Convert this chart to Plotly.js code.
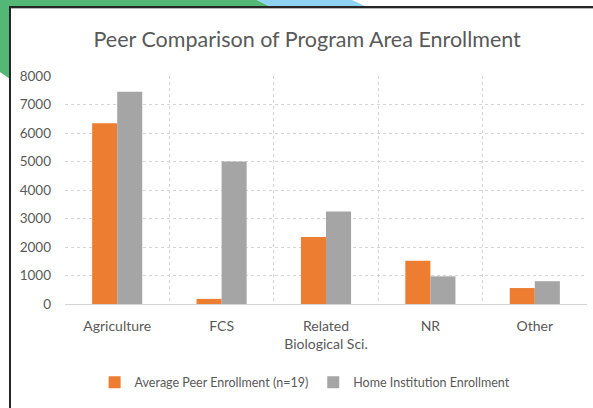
<!DOCTYPE html>
<html>
<head>
<meta charset="utf-8">
<script src="https://cdn.plot.ly/plotly-3.0.1.min.js"></script>
<style>
  html, body { margin: 0; padding: 0; background: #ffffff; overflow: hidden; }
  #wrap { position: relative; width: 593px; height: 408px; }
  .deco { position: absolute; left: 0; top: 0; width: 593px; height: 408px; }
  #chart { position: absolute; left: 0; top: 0; width: 593px; height: 408px; }
</style>
</head>
<body>
<div id="wrap">
  <div class="deco" style="background:#53b776; clip-path: polygon(0px 0px, 257px 0px, 271px 7px, 10px 7px, 10px 79px, 0px 72px);"></div>
  <div class="deco" style="background:#8fd3f2; clip-path: polygon(257px 0px, 352px 0px, 367px 7px, 271px 7px);"></div>
  <div style="position:absolute; left:9px; top:6px; width:584px; height:2px; background:#262626;"></div>
  <div style="position:absolute; left:11px; top:8px; width:582px; height:1px; background:#b8b8b8;"></div>
  <div style="position:absolute; left:9px; top:6px; width:2px; height:402px; background:#262626;"></div>
  <div id="chart"></div>
</div>
<script>
const categories = ["Agriculture", "FCS", "Related<br>Biological Sci.", "NR", "Other"];
const peerValues = [6340, 180, 2350, 1520, 560];
const homeValues = [7450, 5000, 3250, 970, 800];
const seriesNames = ["Average Peer Enrollment (n=19)", "Home Institution Enrollment"];
const yTicks = [0, 1000, 2000, 3000, 4000, 5000, 6000, 7000, 8000];

const font = "Lato, 'Noto Sans', sans-serif";
const traces = [
  { type: "bar", x: categories, y: peerValues, name: seriesNames[0], marker: { color: "#ed7d31" } },
  { type: "bar", x: categories, y: homeValues, name: seriesNames[1], marker: { color: "#a5a5a5" } }
];
const layout = {
  width: 593, height: 408,
  paper_bgcolor: "rgba(0,0,0,0)", plot_bgcolor: "rgba(0,0,0,0)",
  margin: { l: 65, r: 6, t: 76, b: 104, pad: 0 },
  title: { text: "Peer Comparison of Program Area Enrollment", x: 0.518, xanchor: "center", y: 0.903, yanchor: "middle",
           font: { family: font, size: 21.5, color: "#595959" } },
  barmode: "group", bargap: 0.52, bargroupgap: 0,
  showlegend: true,
  legend: { orientation: "h", x: 0.46, xanchor: "center", y: -0.345, yanchor: "middle",
            font: { family: font, size: 12.5, color: "#595959" }, itemwidth: 30, traceorder: "normal" },
  xaxis: { type: "category", tickson: "boundaries", showgrid: true, gridcolor: "#d4d4d4", griddash: "dot", gridwidth: 1,
           ticks: "", ticklen: 0, showline: false, zeroline: false, ticklabelstandoff: 12,
           tickfont: { family: font, size: 14, color: "#595959" }, fixedrange: true },
  yaxis: { range: [0, 8000], tickvals: yTicks, ticktext: yTicks.map(String), showgrid: true, gridcolor: "#d4d4d4", griddash: "dot",
           zeroline: true, zerolinecolor: "#d4d4d4", zerolinewidth: 1, showline: false, ticks: "",
           ticklabelstandoff: 13,
           tickfont: { family: font, size: 13.5, color: "#595959" }, fixedrange: true }
};
Plotly.newPlot("chart", traces, layout, { staticPlot: true, displayModeBar: false });
</script>
</body>
</html>
